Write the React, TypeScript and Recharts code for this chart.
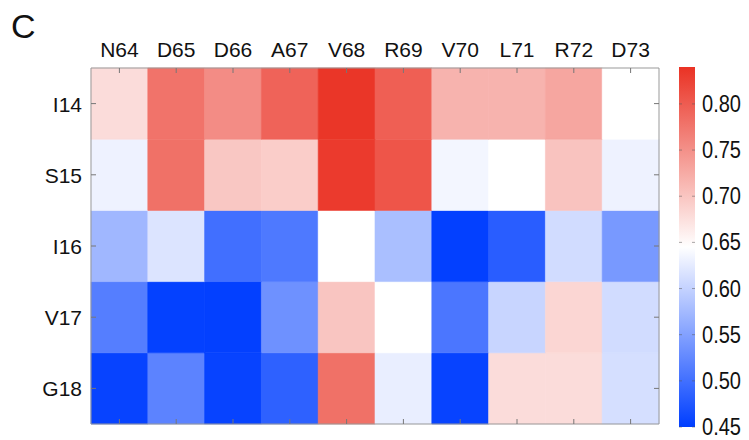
import React from 'react';
import { BarChart, Bar, XAxis, YAxis, Cell } from 'recharts';

const columns = ['N64', 'D65', 'D66', 'A67', 'V68', 'R69', 'V70', 'L71', 'R72', 'D73'];
const rows = ['I14', 'S15', 'I16', 'V17', 'G18'];

const I14 = [0.678, 0.778, 0.754, 0.793, 0.836, 0.797, 0.717, 0.717, 0.730, 0.645];
const S15 = [0.632, 0.780, 0.698, 0.693, 0.832, 0.807, 0.636, 0.645, 0.702, 0.632];
const I16 = [0.572, 0.618, 0.500, 0.510, 0.645, 0.580, 0.452, 0.481, 0.610, 0.542];
const V17 = [0.515, 0.453, 0.452, 0.534, 0.700, 0.645, 0.507, 0.603, 0.684, 0.610];
const G18 = [0.455, 0.520, 0.455, 0.485, 0.780, 0.628, 0.455, 0.678, 0.678, 0.613];

const rowValues: Record<string, number[]> = { I14, S15, I16, V17, G18 };

const colorbarTicks = [0.45, 0.5, 0.55, 0.6, 0.65, 0.7, 0.75, 0.8];
const VMIN = 0.45;
const VMID = 0.645;
const VMAX = 0.84;

const BLUE = [0, 62, 255];
const WHITE = [255, 255, 255];
const RED = [234, 50, 36];

function mix(a: number[], b: number[], t: number) {
  const c = a.map((v, i) => Math.round(v + (b[i] - v) * t));
  return `rgb(${c[0]},${c[1]},${c[2]})`;
}
function colorFor(v: number) {
  if (v <= VMID) {
    const t = Math.max(0, Math.min(1, (v - VMIN) / (VMID - VMIN)));
    return mix(BLUE, WHITE, t);
  }
  const t = Math.max(0, Math.min(1, (v - VMID) / (VMAX - VMID)));
  return mix(WHITE, RED, t);
}

const FONT = '"Liberation Sans", Arial, Helvetica, sans-serif';
const PT = 68;
const PB = 424;
const PL = 91;
const PR = 659;

const data = columns.map((c) => {
  const o: Record<string, any> = { name: c };
  rows.forEach((r) => (o[r] = 1));
  return o;
});

const stackOrder = [...rows].reverse(); // bottom to top

const XTick = (props: any) => {
  const { x, payload } = props;
  return (
    <g>
      <text x={x} y={57} textAnchor="middle" fontSize={21} fill="#111" fontFamily={FONT}>
        {payload.value}
      </text>
      <line x1={x} x2={x} y1={PT} y2={PT + 5} stroke="#777" strokeWidth={1} />
      <line x1={x} x2={x} y1={PB - 5} y2={PB} stroke="#777" strokeWidth={1} />
    </g>
  );
};

const YTick = (props: any) => {
  const { y, payload } = props;
  const label = rows[4 - Math.floor(payload.value)];
  return (
    <g>
      <text x={82} y={y + 8} textAnchor="end" fontSize={21} fill="#111" fontFamily={FONT}>
        {label}
      </text>
      <line x1={PL} x2={PL + 5} y1={y} y2={y} stroke="#777" strokeWidth={1} />
      <line x1={PR - 5} x2={PR} y1={y} y2={y} stroke="#777" strokeWidth={1} />
    </g>
  );
};

const CBTick = (props: any) => {
  const { y, payload } = props;
  return (
    <g>
      <text
        x={702}
        y={y + 8}
        textAnchor="start"
        fontSize={23}
        fill="#111"
        fontFamily={FONT}
        textLength={39}
        lengthAdjust="spacingAndGlyphs"
      >
        {payload.value.toFixed(2)}
      </text>
      <line x1={679} x2={682} y1={y} y2={y} stroke="#555" strokeOpacity={0.5} />
      <line x1={692} x2={695} y1={y} y2={y} stroke="#555" strokeOpacity={0.5} />
    </g>
  );
};

const gradStops = [0, 0.1, 0.2, 0.3, 0.4, 0.5, 0.6, 0.7, 0.8, 0.9, 1].map((f) => {
  const v = VMAX - f * (VMAX - VMIN);
  return { off: f, color: colorFor(v) };
});

export default function App() {
  return (
    <div style={{ position: 'absolute', left: 0, top: 0, width: 749, height: 440, background: '#fff' }}>
      <svg width={749} height={440} style={{ position: 'absolute', left: 0, top: 0 }}>
        <text x={11} y={38} fontSize={34} fill="#111" fontFamily={FONT}>C</text>
      </svg>
      <div style={{ position: 'absolute', left: 0, top: 0 }}>
        <BarChart
          width={749}
          height={440}
          data={data}
          margin={{ top: PT - 1, left: PL - 1, right: 749 - PR - 1, bottom: 440 - PB - 1 }}
          barCategoryGap={0}
          barGap={0}
        >
          {stackOrder.map((r) => (
            <Bar key={r} dataKey={r} stackId="s" isAnimationActive={false}>
              {rowValues[r].map((v, i) => (
                <Cell key={i} fill={colorFor(v)} stroke={colorFor(v)} strokeWidth={0.6} />
              ))}
            </Bar>
          ))}
          <XAxis
            dataKey="name"
            orientation="top"
            height={1}
            axisLine={{ stroke: '#999' }}
            tickLine={false}
            tick={<XTick />}
            interval={0}
          />
          <XAxis xAxisId="b" dataKey="name" orientation="bottom" height={1} axisLine={{ stroke: '#999' }} tickLine={false} tick={false} />
          <YAxis
            type="number"
            domain={[0, 5]}
            ticks={[0.5, 1.5, 2.5, 3.5, 4.5]}
            width={1}
            axisLine={{ stroke: '#999' }}
            tickLine={false}
            tick={<YTick />}
            interval={0}
          />
          <YAxis yAxisId="r" orientation="right" type="number" domain={[0, 5]} width={1} axisLine={{ stroke: '#999' }} tickLine={false} tick={false} />
        </BarChart>
      </div>
      <div style={{ position: 'absolute', left: 0, top: 0 }}>
        <BarChart
          width={749}
          height={440}
          data={[{ name: 'cb', v: VMAX }]}
          margin={{ top: 67, left: 679, right: 749 - 695 - 1, bottom: 13 }}
          barCategoryGap={0}
        >
          <defs>
            <linearGradient id="cbGrad" x1="0" y1="0" x2="0" y2="1">
              {gradStops.map((s, i) => (
                <stop key={i} offset={s.off} stopColor={s.color} />
              ))}
            </linearGradient>
          </defs>
          <XAxis dataKey="name" hide />
          <YAxis
            orientation="right"
            type="number"
            domain={[VMIN, VMAX]}
            ticks={colorbarTicks}
            width={1}
            axisLine={false}
            tickLine={false}
            tick={<CBTick />}
            interval={0}
            allowDataOverflow
          />
          <Bar dataKey="v" fill="url(#cbGrad)" isAnimationActive={false} />
        </BarChart>
      </div>
    </div>
  );
}
